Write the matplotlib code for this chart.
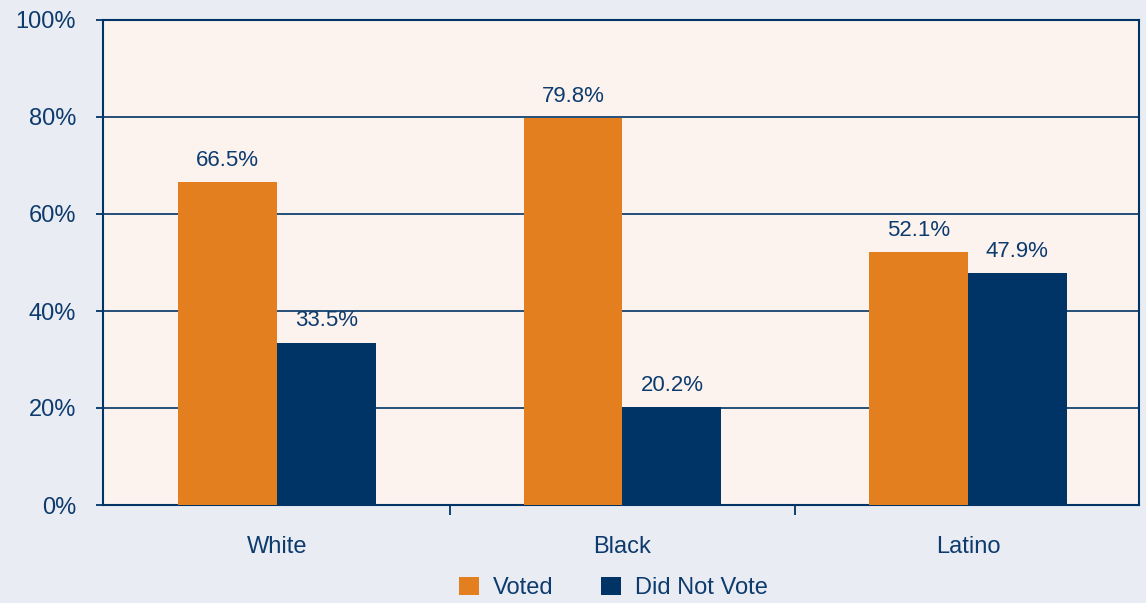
import matplotlib
matplotlib.use("Agg")
import matplotlib.pyplot as plt
import numpy as np
from matplotlib.patches import Patch

categories = ["White", "Black", "Latino"]
voted = [66.5, 79.8, 52.1]
did_not_vote = [33.5, 20.2, 47.9]
series_names = ["Voted", "Did Not Vote"]
y_ticks = [0, 20, 40, 60, 80, 100]

ORANGE = "#E37F1E"
NAVY = "#003366"
FIG_BG = "#E9ECF2"
AX_BG = "#FCF3EE"
TEXT = "#0D3B6E"

plt.rcParams['font.family'] = ['Liberation Sans', 'DejaVu Sans']

fig = plt.figure(figsize=(11.46, 6.03), dpi=100, facecolor=FIG_BG)
ax = fig.add_axes([102.5/1146, 98/603, 1036.5/1146, 485/603])
ax.set_facecolor(AX_BG)

x = np.arange(len(categories))
w = 0.286
b1 = ax.bar(x - w/2, voted, w, color=ORANGE, zorder=3)
b2 = ax.bar(x + w/2, did_not_vote, w, color=NAVY, zorder=3)

for bars, vals in ((b1, voted), (b2, did_not_vote)):
    for r, v in zip(bars, vals):
        ax.annotate(f"{v:.1f}%", (r.get_x() + r.get_width()/2, v),
                    xytext=(0, 8), textcoords="offset points",
                    ha="center", va="bottom", fontsize=16, color=TEXT, zorder=4)

ax.set_xlim(-0.505, 2.495)
ax.set_ylim(0, 100)
ax.set_yticks(y_ticks)
ax.set_yticklabels([f"{t}%" for t in y_ticks])
ax.yaxis.grid(True, color=NAVY, linewidth=1.2, zorder=1)
ax.set_axisbelow(True)

ax.set_xticks(x)
ax.set_xticklabels(categories)
ax.set_xticks(np.arange(0.5, len(categories) - 0.5, 1), minor=True)
ax.tick_params(axis="x", which="major", length=0, pad=22, labelsize=17, labelcolor=TEXT)
ax.tick_params(axis="x", which="minor", length=7, width=1.3, color=NAVY)
ax.tick_params(axis="y", length=5, width=1.3, color=NAVY, labelsize=17, labelcolor=TEXT, pad=14)

for s in ax.spines.values():
    s.set_color(NAVY)
    s.set_linewidth(1.5)

handles = [Patch(facecolor=ORANGE), Patch(facecolor=NAVY)]
fig.legend(handles, series_names, loc="center", bbox_to_anchor=(0.535, 0.025),
           ncol=2, frameon=False, fontsize=17, labelcolor=TEXT,
           handlelength=0.85, handleheight=0.85, handletextpad=0.6, columnspacing=2.0)

fig.savefig("out.png", dpi=100, facecolor=FIG_BG)
